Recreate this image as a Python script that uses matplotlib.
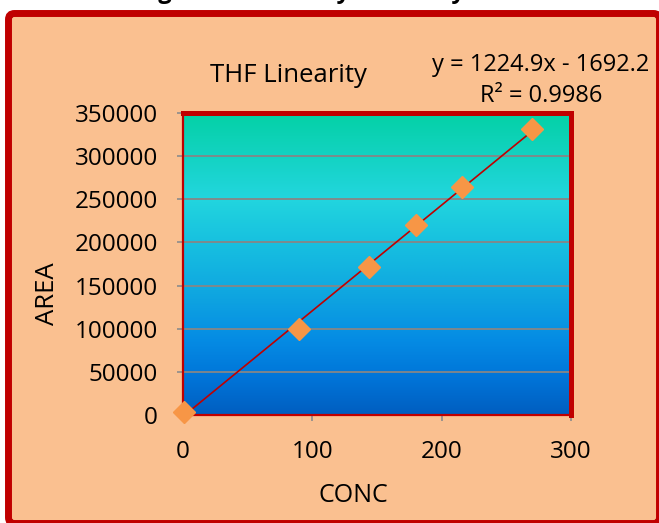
import numpy as np
import matplotlib
matplotlib.use("Agg")
import matplotlib.pyplot as plt
from matplotlib.patches import FancyBboxPatch
from matplotlib.transforms import IdentityTransform
from matplotlib.colors import LinearSegmentedColormap

plt.rcParams['font.family'] = ['Open Sans', 'DejaVu Sans']

# ---- data ----
conc = [1, 90, 144, 180, 216, 270]
area = [4000, 100000, 172000, 220000, 264000, 332000]
slope = 1224.9
intercept = -1692.2
r_squared = 0.9986
x_ticks = [0, 100, 200, 300]
y_ticks = [0, 50000, 100000, 150000, 200000, 250000, 300000, 350000]
chart_title = "THF Linearity"
x_label = "CONC"
y_label = "AREA"
header_text = "Figure 3: Linearity of THF by GC"

W, H = 659, 523
fig = plt.figure(figsize=(W / 100, H / 100), dpi=100)
fig.patch.set_facecolor('white')

RED = '#C00000'
PEACH = '#FAC090'

# outer chart box (pixel coordinates)
box = FancyBboxPatch((8.5, -0.5), 651, 510,
                     boxstyle="round,pad=0,rounding_size=6",
                     facecolor=PEACH, edgecolor=RED, linewidth=5.0,
                     transform=IdentityTransform(), zorder=0)
fig.add_artist(box)

# cut-off header text at the very top (only descenders visible in reference)
fig.text(138 / W, 1 + 2.5 / H, header_text, fontsize=17, fontweight='bold',
         ha='left', va='baseline', color='black')

# axes
ax = fig.add_axes([183 / W, (H - 415) / H, 388 / W, 302 / H])
ax.set_facecolor('none')

cmap = LinearSegmentedColormap.from_list('bg', [
    (0.00, '#04D1A6'),
    (0.15, '#14D3C4'),
    (0.28, '#22D6DE'),
    (0.45, '#16BDE0'),
    (0.60, '#0FA6E0'),
    (0.75, '#058CE4'),
    (0.88, '#0074D8'),
    (1.00, '#005EC0'),
])
grad = np.linspace(0, 1, 256).reshape(-1, 1)
ax.imshow(grad, cmap=cmap, aspect='auto', extent=[0, 300, 0, 350000],
          origin='upper', zorder=-2, interpolation='bilinear')
ax.set_xlim(0, 300)
ax.set_ylim(0, 350000)

ax.set_axisbelow(True)
ax.yaxis.grid(True, color='#868686', linewidth=1.3)
ax.xaxis.grid(False)

ax.set_xticks(x_ticks)
ax.set_yticks(y_ticks)
ax.set_xticklabels([str(v) for v in x_ticks])
ax.set_yticklabels([str(v) for v in y_ticks])
ax.tick_params(axis='both', direction='out', length=4, width=1.2,
               color='#8C8C8C', labelsize=17.5, labelcolor='black')
ax.tick_params(axis='y', pad=14)
ax.tick_params(axis='x', pad=14)

for side in ['left', 'bottom']:
    ax.spines[side].set_color(RED)
    ax.spines[side].set_linewidth(1.6)
for side in ['top', 'right']:
    ax.spines[side].set_color(RED)
    ax.spines[side].set_linewidth(3.6)

# trendline
xl = np.array([0.0, max(conc)])
ax.plot(xl, slope * xl + intercept, color=RED, linewidth=1.2, zorder=3)

# data points
ax.plot(conc, area, linestyle='none', marker='D', markersize=11,
        markerfacecolor='#F79646', markeredgecolor='#F79646',
        zorder=4, clip_on=False)

# titles
fig.text(288 / W, 1 - 82 / H, chart_title, fontsize=18.5, ha='center',
         va='baseline')
fig.text(541 / W, 1 - 71 / H, f"y = {slope}x - {abs(intercept)}",
         fontsize=17, ha='center', va='baseline')
fig.text(541 / W, 1 - 102 / H, f"R\u00b2 = {r_squared}",
         fontsize=17, ha='center', va='baseline')
fig.text(47 / W, 1 - 294 / H, y_label, fontsize=18.5, rotation=90,
         ha='center', va='center')
fig.text(353 / W, 1 - 496 / H, x_label, fontsize=18, ha='center',
         va='center')

fig.savefig('out.png', dpi=100, facecolor=fig.get_facecolor())
